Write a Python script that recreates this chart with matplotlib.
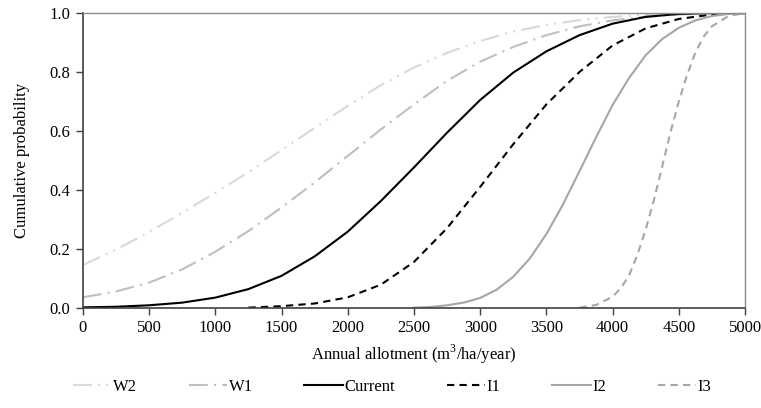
import numpy as np
import matplotlib.pyplot as plt

## Data (allotment in m3/ha/year, cumulative probability)
x_w2 = [0, 250, 500, 750, 1000, 1250, 1500, 1750, 2000, 2250, 2500, 2750, 3000,
        3250, 3500, 3750, 4000, 4250, 4500, 4750, 5000]
p_w2 = [0.145, 0.197, 0.257, 0.322, 0.39, 0.46, 0.535, 0.61, 0.685, 0.755, 0.815,
        0.865, 0.905, 0.937, 0.96, 0.976, 0.987, 0.994, 0.998, 1.0, 1.0]

x_w1 = [0, 250, 500, 750, 1000, 1250, 1500, 1750, 2000, 2250, 2500, 2750, 3000,
        3250, 3500, 3750, 4000, 4250, 4500, 4750, 5000]
p_w1 = [0.035, 0.055, 0.085, 0.13, 0.19, 0.26, 0.34, 0.425, 0.515, 0.605, 0.69,
        0.77, 0.835, 0.885, 0.925, 0.955, 0.975, 0.988, 0.995, 0.999, 1.0]

x_cur = [0, 250, 500, 750, 1000, 1250, 1500, 1750, 2000, 2250, 2500, 2750, 3000,
         3250, 3500, 3750, 4000, 4250, 4500, 4750, 5000]
p_cur = [0.001, 0.003, 0.008, 0.017, 0.034, 0.063, 0.108, 0.174, 0.258, 0.362,
         0.476, 0.594, 0.705, 0.798, 0.87, 0.925, 0.964, 0.987, 0.997, 1.0, 1.0]

x_i1 = [1250, 1500, 1750, 2000, 2250, 2500, 2750, 3000, 3250, 3500, 3750, 4000,
        4250, 4500, 4750, 5000]
p_i1 = [0.0, 0.005, 0.014, 0.035, 0.078, 0.155, 0.27, 0.41, 0.555, 0.69, 0.80,
        0.89, 0.948, 0.98, 0.995, 1.0]

x_i2 = [2500, 2625, 2750, 2875, 3000, 3125, 3250, 3375, 3500, 3625, 3750, 3875,
        4000, 4125, 4250, 4375, 4500, 4625, 4750, 4875, 5000]
p_i2 = [0.0, 0.002, 0.008, 0.017, 0.033, 0.061, 0.105, 0.167, 0.25, 0.35, 0.463,
        0.578, 0.688, 0.78, 0.857, 0.912, 0.95, 0.975, 0.99, 0.997, 1.0]

x_i3 = [3750, 3875, 4000, 4062.5, 4125, 4187.5, 4250, 4312.5, 4375, 4437.5, 4500,
        4562.5, 4625, 4687.5, 4750, 4875, 5000]
p_i3 = [0.0, 0.009, 0.037, 0.066, 0.11, 0.18, 0.265, 0.366, 0.48, 0.596, 0.70,
        0.79, 0.866, 0.92, 0.955, 0.99, 1.0]

## Figure
plt.rcParams['font.family'] = ['Liberation Serif', 'DejaVu Serif']
plt.rcParams['font.size'] = 12
plt.rcParams['mathtext.fontset'] = 'custom'
plt.rcParams['mathtext.rm'] = 'Liberation Serif'

fig = plt.figure(figsize=(7.61, 4.08), dpi=100)
ax = fig.add_axes([0.109, 0.246, 0.870, 0.722])

lw = 1.5
ax.plot(x_w2, p_w2, color='#d9d9d9', lw=lw, dashes=(9, 3, 1, 3, 1, 3), label='W2')
ax.plot(x_w1, p_w1, color='#bfbfbf', lw=lw, dashes=(9, 3, 1, 3), label='W1')
ax.plot(x_cur, p_cur, color='black', lw=lw, label='Current')
ax.plot(x_i1, p_i1, color='black', lw=lw, dashes=(3.5, 2.5), label='I1')
ax.plot(x_i2, p_i2, color='#a6a6a6', lw=lw, label='I2')
ax.plot(x_i3, p_i3, color='#a6a6a6', lw=lw, dashes=(3.5, 2.5), label='I3')

ax.set_xlim(0, 5000)
ax.set_ylim(0, 1.0)
ax.set_xticks(np.arange(0, 5001, 500))
ax.set_yticks(np.arange(0, 1.01, 0.2))
ax.yaxis.set_major_formatter(plt.FormatStrFormatter('%.1f'))

for s in ['left', 'bottom']:
  ax.spines[s].set_color('#404040')
  ax.spines[s].set_linewidth(1.2)
for s in ['top', 'right']:
  ax.spines[s].set_color('#8c8c8c')
  ax.spines[s].set_linewidth(1.0)
ax.tick_params(direction='out', length=5, width=1, color='#404040', pad=4)

ax.set_xlabel('Annual allotment (m$^\\mathrm{3}$/ha/year)', labelpad=5)
ax.set_ylabel('Cumulative probability', labelpad=14)

ax.legend(loc='upper center', bbox_to_anchor=(0.467, -0.19), ncol=6,
          frameon=False, handlelength=2.3, handletextpad=0.1,
          columnspacing=3.1, fontsize=12)

fig.savefig('out.png', dpi=100)
